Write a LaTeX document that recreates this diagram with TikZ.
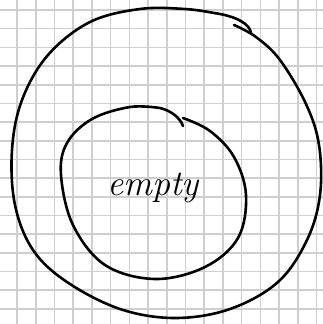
\documentclass[tikz,border=0pt]{standalone}
\begin{document}
\begin{tikzpicture}[x=1pt,y=-1pt,
  gridline/.style={draw=black!19,line width=1.6pt},
  pen/.style={draw=black,line width=2.6pt,line cap=round,line join=round}]
\useasboundingbox (0,0) rectangle (323,324);
\fill[white] (0,0) rectangle (323,324);
\foreach \k in {0,...,16}{
  \draw[gridline] ({17+18.72*\k},0) -- ({17+18.72*\k},324);
  \draw[gridline] (0,{10+18.68*\k}) -- (323,{10+18.68*\k});
}
% outer loop
\draw[pen] plot[smooth,tension=0.6] coordinates {
 (234,25) (256,37) (280,60) (306,104) (319,145) (320,195) (307,240)
 (278,282) (230,309) (175,318) (120,309) (67,282) (33,250) (15,205)
 (12,150) (22,100) (48,55) (90,22) (140,9) (185,9) (214,13)}
 .. controls (236,16) and (250,24) .. (251,33);
% inner loop
\draw[pen] plot[smooth,tension=0.6] coordinates {
 (183,118) (210,131) (234,157) (246,195) (238,238) (205,267) (155,279)
 (105,265) (73,225) (61,175) (67,143) (92,119) (130,107) (160,108)}
 .. controls (172,111) and (180,118) .. (183,126);
\node[anchor=base west,inner sep=0pt,font=\fontsize{36}{40}\selectfont\itshape] (lbl) at (107,195) {empty};
\end{tikzpicture}
\end{document}
